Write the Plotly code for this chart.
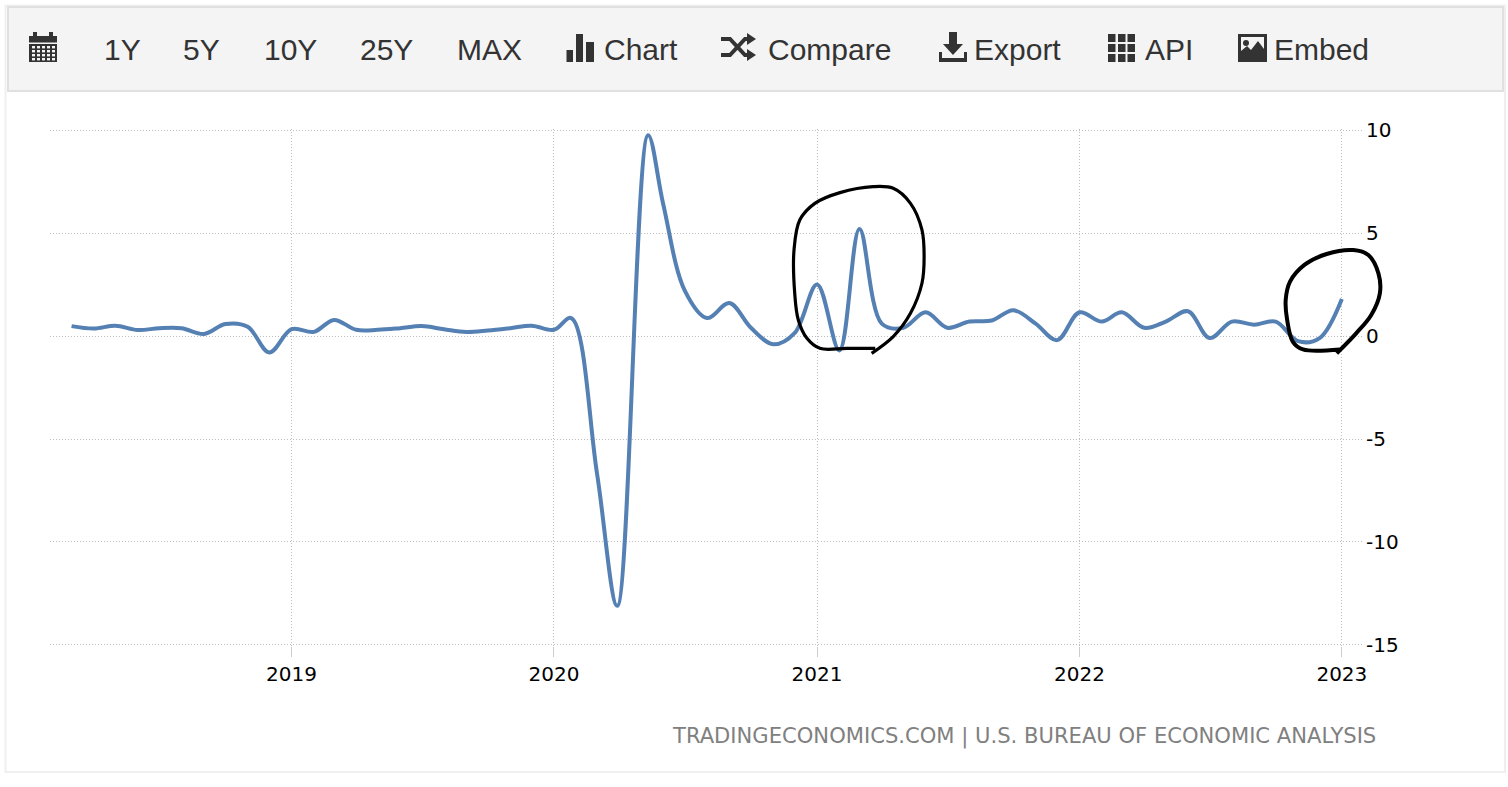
import plotly.graph_objects as go
import pandas as pd

# ---------- data ----------
months = pd.date_range("2018-03-01", "2023-01-01", freq="MS").strftime("%Y-%m-%d").tolist()
# the spring-2020 turning points sit a little off the month start in the picture
months[months.index("2020-02-01")] = "2020-01-25"
months[months.index("2020-04-01")] = "2020-03-29"
months[months.index("2020-05-01")] = "2020-05-11"
values = [
    0.48, 0.36, 0.50, 0.29, 0.38, 0.38, 0.10, 0.58, 0.45, -0.80,
    0.33, 0.20, 0.78, 0.30, 0.30, 0.38, 0.48, 0.33, 0.20, 0.27, 0.38, 0.50,
    0.30, 0.87, -6.70, -13.10, 9.75, 6.40, 2.20, 0.87, 1.60, 0.40, -0.40, 0.15,
    2.50, -0.70, 5.20, 0.60, 0.40, 1.15, 0.40, 0.70, 0.75, 1.25, 0.60, -0.20,
    1.15, 0.70, 1.15, 0.40, 0.70, 1.20, -0.10, 0.70, 0.55, 0.70, -0.25, -0.10,
    1.80,
]
ring1_x = ["2021-03-23", "2021-02-11", "2021-01-05", "2020-12-18", "2020-12-06", "2020-12-01",
           "2020-11-30", "2020-12-08", "2020-12-29", "2021-02-02", "2021-03-20", "2021-04-17",
           "2021-05-11", "2021-05-27", "2021-05-30", "2021-05-27", "2021-05-11", "2021-04-17",
           "2021-03-18"]
ring1_y = [-0.60, -0.60, -0.60, -0.11, 0.78, 2.07, 4.17, 5.63, 6.44, 6.96, 7.25, 7.17,
           6.44, 5.15, 3.85, 2.56, 1.10, -0.03, -0.84]
ring2_x = ["2022-12-29", "2022-11-08", "2022-10-25", "2022-10-17", "2022-10-15", "2022-10-21",
           "2022-11-10", "2022-12-11", "2023-01-17", "2023-02-07", "2023-02-21", "2023-02-23",
           "2023-02-11", "2023-01-21", "2022-12-25"]
ring2_y = [-0.65, -0.65, -0.28, 0.78, 1.75, 2.64, 3.45, 3.98, 4.17, 3.93, 3.04, 2.07,
           1.02, 0.13, -0.84]
year_ticks = ["2019-01-01", "2020-01-01", "2021-01-01", "2022-01-01", "2023-01-01"]
year_labels = ["2019", "2020", "2021", "2022", "2023"]
y_ticks = [10, 5, 0, -5, -10, -15]
y_labels = ["10", "5", "0", "-5", "-10", "-15"]
toolbar_labels = ["1Y", "5Y", "10Y", "25Y", "MAX", "Chart", "Compare", "Export", "API", "Embed"]
source_text = "TRADINGECONOMICS.COM | U.S. BUREAU OF ECONOMIC ANALYSIS"

# ---------- layout geometry ----------
W, H = 1508, 787
L, R, T, B = 50, 1400, 129, 646      # outer plotting box
MAIN_R = 1362                        # right edge of the gridded chart
DARK = "#333333"
BAR_BG = "#f4f4f4"
Y_RANGE = [-15.049, 10.049]

def px(x):
    return (x - L) / (R - L)

def py(y):
    return (B - y) / (B - T)

def rect(x0, y0, x1, y1, fill=DARK, line=None, lw=0, layer="above"):
    return dict(type="rect", xref="paper", yref="paper", x0=px(x0), x1=px(x1), y0=py(y1), y1=py(y0),
                fillcolor=fill, line=dict(color=line or "rgba(0,0,0,0)", width=lw), layer=layer)

def poly(points, fill=DARK):
    d = "M " + " L ".join(f"{px(a):.5f} {py(b):.5f}" for a, b in points) + " Z"
    return dict(type="path", xref="paper", yref="paper", path=d, fillcolor=fill,
                line=dict(color="rgba(0,0,0,0)", width=0), layer="above")

def stroke(points, width=4, color=DARK):
    d = "M " + " L ".join(f"{px(a):.5f} {py(b):.5f}" for a, b in points)
    return dict(type="path", xref="paper", yref="paper", path=d,
                line=dict(color=color, width=width), layer="above")

shapes = [
    rect(5.5, 5.5, 1505, 772, fill="#ffffff", line="#efefef", lw=2, layer="below"),
    rect(8, 7, 1503, 91, fill=BAR_BG, line="#e0e0e0", lw=2, layer="below"),
]
# calendar
shapes += [rect(29, 36, 57, 62), rect(33, 32, 37, 37), rect(49, 32, 53, 37), rect(29, 42.5, 57, 44, fill=BAR_BG)]
for cx in range(32, 54, 5):
    for cy in (46, 50, 54, 58):
        shapes.append(rect(cx, cy, cx + 3, cy + 2.4, fill=BAR_BG))
# bars
shapes += [rect(566.5, 50, 573, 62), rect(576, 34, 583, 62), rect(586, 42, 594, 62)]
# shuffle
shapes += [
    stroke([(721, 39), (730, 39), (745, 55), (749, 55)]),
    stroke([(721, 55), (730, 55), (745, 39), (749, 39)]),
    poly([(747, 33), (756, 39), (747, 45)]),
    poly([(747, 49), (756, 55), (747, 61)]),
]
# export
shapes += [
    poly([(949, 32), (957, 32), (957, 44), (963, 44), (953, 55), (943, 44), (949, 44)]),
    poly([(939, 52), (942, 52), (942, 58), (964, 58), (964, 52), (967, 52), (967, 62), (939, 62)]),
]
# api grid
for cx in (1108, 1118, 1127.5):
    for cy in (34, 44, 54):
        shapes.append(rect(cx, cy, cx + 7.5, cy + 8))
# embed
shapes += [
    rect(1238, 34, 1267, 62),
    rect(1241, 37, 1264, 56, fill=BAR_BG),
    poly([(1241, 57), (1241, 51), (1247, 46), (1251, 50), (1258, 41), (1264, 49), (1264, 57)]),
]
shapes.append(dict(type="circle", xref="paper", yref="paper", x0=px(1243), x1=px(1249),
                   y0=py(46), y1=py(40), fillcolor=DARK, line=dict(width=0), layer="above"))

toolbar_x = [102, 181, 262, 358, 455, 602, 766, 972, 1143, 1272]
annotations = [
    dict(text=t, x=px(x), y=py(49), xref="paper", yref="paper", xanchor="left", yanchor="middle",
         showarrow=False, font=dict(family="Liberation Sans", size=30, color=DARK))
    for t, x in zip(toolbar_labels, toolbar_x)
]
annotations.append(dict(text=source_text, x=px(1378), y=py(735.5), xref="paper", yref="paper",
                        xanchor="right", yanchor="middle", showarrow=False,
                        font=dict(family="DejaVu Sans", size=21.1, color="#808080")))

# ---------- figure ----------
fig = go.Figure()
fig.add_trace(go.Scatter(x=months, y=values, mode="lines", xaxis="x", yaxis="y",
                         line=dict(color="#5580b3", width=4, shape="spline")))
for rx, ry, w in ((ring1_x, ring1_y, 3.2), (ring2_x, ring2_y, 4)):
    fig.add_trace(go.Scatter(x=rx, y=ry, mode="lines", xaxis="x2", yaxis="y2",
                             line=dict(color="#000000", width=w, shape="spline")))

GRID = "#bdbdbd"
fig.update_layout(
    width=W, height=H, showlegend=False, paper_bgcolor="#ffffff", plot_bgcolor="rgba(0,0,0,0)",
    margin=dict(l=L, r=W - R, t=T, b=H - B, autoexpand=False),
    shapes=shapes, annotations=annotations,
    xaxis=dict(type="date", domain=[0, px(MAIN_R)], anchor="y",
               range=["2018-01-30", "2023-01-29"], tickvals=year_ticks, ticktext=year_labels,
               showgrid=True, gridcolor=GRID, griddash="1px,2px", gridwidth=1, zeroline=False,
               ticks="outside", ticklen=10, tickcolor="#cccccc", tickwidth=1, showline=False,
               tickfont=dict(family="DejaVu Sans", size=20, color="#000000")),
    yaxis=dict(side="right", range=Y_RANGE, anchor="x", tickvals=y_ticks, ticktext=y_labels,
               showgrid=True, gridcolor=GRID, griddash="1px,2px", gridwidth=1, zeroline=False,
               ticks="", showline=False, ticklabelstandoff=3,
               tickfont=dict(family="DejaVu Sans", size=20, color="#000000")),
    # wider, invisible pair of axes so the hand-drawn rings may run past the chart's right edge
    xaxis2=dict(type="date", domain=[0, 1], anchor="y2", range=["2018-01-30", "2023-03-23"], visible=False),
    yaxis2=dict(domain=[0, 1], anchor="x2", range=Y_RANGE, visible=False),
)
fig.write_html("out.html", config=dict(displayModeBar=False),
               post_script="document.body.style.margin='0';document.body.style.overflow='hidden';")
